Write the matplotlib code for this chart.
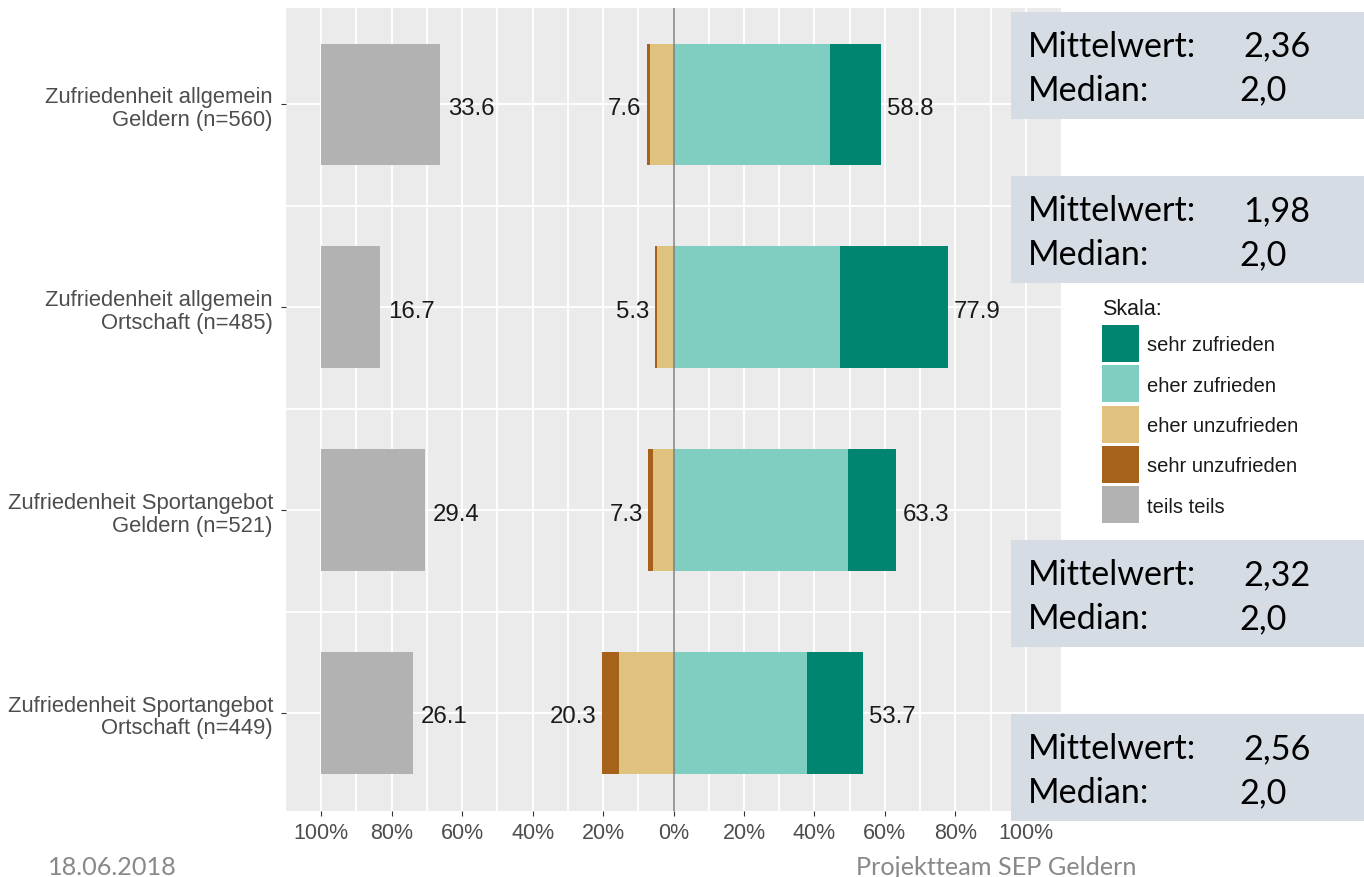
import matplotlib
matplotlib.use("Agg")
import matplotlib.pyplot as plt
from matplotlib.patches import Rectangle
import numpy as np

# ---------------- data ----------------
categories = [
    "Zufriedenheit allgemein\nGeldern (n=560)",
    "Zufriedenheit allgemein\nOrtschaft (n=485)",
    "Zufriedenheit Sportangebot\nGeldern (n=521)",
    "Zufriedenheit Sportangebot\nOrtschaft (n=449)",
]
sehr_zufrieden = [14.3, 30.5, 13.9, 15.7]
eher_zufrieden = [44.5, 47.4, 49.4, 38.0]
eher_unzufrieden = [6.8, 4.7, 5.9, 15.4]
sehr_unzufrieden = [0.8, 0.6, 1.4, 4.9]
teils_teils = [33.6, 16.7, 29.4, 26.1]
pos_labels = [58.8, 77.9, 63.3, 53.7]
neg_labels = [7.6, 5.3, 7.3, 20.3]
teils_labels = [33.6, 16.7, 29.4, 26.1]

x_ticks = [-100, -80, -60, -40, -20, 0, 20, 40, 60, 80, 100]
x_ticklabels = ["100%", "80%", "60%", "40%", "20%", "0%", "20%", "40%", "60%", "80%", "100%"]

legend_title = "Skala:"
legend_labels = ["sehr zufrieden", "eher zufrieden", "eher unzufrieden", "sehr unzufrieden", "teils teils"]
legend_colors = ["#018571", "#80cdc1", "#dfc27d", "#a6611a", "#b2b2b2"]

mittelwert = ["2,36", "1,98", "2,32", "2,56"]
median = ["2,0", "2,0", "2,0", "2,0"]

footer_left = "18.06.2018"
footer_right = "Projektteam SEP Geldern"

# ---------------- layout ----------------
W, H = 1364, 878
fig = plt.figure(figsize=(W / 100, H / 100), dpi=100)
fig.patch.set_facecolor("white")

def fx(px):
    return px / W

def fy(py):
    return 1 - py / H

ax_l, ax_r, ax_t, ax_b = 286, 1061, 9, 812
ax = fig.add_axes([fx(ax_l), fy(ax_b), fx(ax_r) - fx(ax_l), (ax_b - ax_t) / H])
ax.set_facecolor("#ebebeb")

ypos = np.arange(len(categories))
bh = 0.6
C_SZ, C_EZ, C_EU, C_SU, C_TT = legend_colors

# grid
for v in np.arange(-100, 101, 10):
    ax.axvline(v, color="white", lw=1.3, zorder=0.5)
for v in list(ypos) + [0.5, 1.5, 2.5]:
    ax.axhline(v, color="white", lw=1.3, zorder=0.5)

ez = np.array(eher_zufrieden)
sz = np.array(sehr_zufrieden)
eu = np.array(eher_unzufrieden)
su = np.array(sehr_unzufrieden)
tt = np.array(teils_teils)

ax.barh(ypos, ez, left=0, height=bh, color=C_EZ, zorder=2)
ax.barh(ypos, sz, left=ez, height=bh, color=C_SZ, zorder=2)
ax.barh(ypos, -eu, left=0, height=bh, color=C_EU, zorder=2)
ax.barh(ypos, -su, left=-eu, height=bh, color=C_SU, zorder=2)
ax.barh(ypos, tt, left=-100, height=bh, color=C_TT, zorder=2)

ax.axvline(0, color="#7f7f7f", lw=1.1, zorder=3)

lab_font = dict(family="Liberation Sans", fontsize=17.3, color="#1a1a1a")
for i in range(len(categories)):
    ax.annotate(f"{teils_labels[i]:.1f}", xy=(-100 + tt[i], ypos[i]), xytext=(5.8, -2.5),
                textcoords="offset points", ha="left", va="center", zorder=4, **lab_font)
    ax.annotate(f"{neg_labels[i]:.1f}", xy=(-(eu[i] + su[i]), ypos[i]), xytext=(-3.8, -2.5),
                textcoords="offset points", ha="right", va="center", zorder=4, **lab_font)
    ax.annotate(f"{pos_labels[i]:.1f}", xy=(ez[i] + sz[i], ypos[i]), xytext=(4.5, -2.5),
                textcoords="offset points", ha="left", va="center", zorder=4, **lab_font)

ax.set_xlim(-110, 110)
ax.set_ylim(3.483, -0.475)
ax.set_xticks(x_ticks)
ax.set_xticklabels(x_ticklabels)
ax.set_yticks(ypos)
ax.set_yticklabels(categories, linespacing=1.12, ha="right", multialignment="right")
ax.tick_params(axis="both", length=3.6, width=0.8, color="#333333", labelcolor="#4d4d4d")
ax.tick_params(axis="x", pad=4.5, labelsize=15.5)
ax.tick_params(axis="y", pad=5.8, labelsize=15.8)
for lbl in ax.get_xticklabels() + ax.get_yticklabels():
    lbl.set_family("Liberation Sans")
for lbl in ax.get_yticklabels():
    lbl.set_linespacing(1.12)
for s in ax.spines.values():
    s.set_visible(False)

# legend (manual)
fig.text(fx(1102), fy(310), legend_title, ha="left", va="center",
         family="Liberation Sans", fontsize=15.5, color="#1a1a1a")
for i, (lab, col) in enumerate(zip(legend_labels, legend_colors)):
    top = 326 + 40.3 * i
    fig.add_artist(Rectangle((fx(1102), fy(top + 37)), fx(37), 37 / H,
                             transform=fig.transFigure, facecolor=col, edgecolor="none"))
    fig.text(fx(1147), fy(top + 20), lab, ha="left", va="center",
             family="Liberation Sans", fontsize=14.5, color="#1a1a1a")

# stats boxes
box_tops = [12.7, 177.3, 541, 715]
box_font = dict(family="Lato", fontsize=24.6, color="black")
for i, top in enumerate(box_tops):
    fig.add_artist(Rectangle((fx(1011), fy(top + 107)), fx(W - 1011), 107 / H,
                             transform=fig.transFigure, facecolor="#d6dce4", edgecolor="none", zorder=5))
    fig.text(fx(1028), fy(top + 31), "Mittelwert:", ha="left", va="center_baseline", zorder=6, **box_font)
    fig.text(fx(1243), fy(top + 31), mittelwert[i], ha="left", va="center_baseline", zorder=6, **box_font)
    fig.text(fx(1028), fy(top + 75), "Median:", ha="left", va="center_baseline", zorder=6, **box_font)
    fig.text(fx(1239), fy(top + 75), median[i], ha="left", va="center_baseline", zorder=6, **box_font)

# footer
fig.text(fx(48), fy(866), footer_left, ha="left", va="center_baseline",
         family="Lato", fontsize=18.2, color="#898989")
fig.text(fx(856), fy(866), footer_right, ha="left", va="center_baseline",
         family="Lato", fontsize=18.2, color="#898989")

fig.savefig("out.png", dpi=100)
